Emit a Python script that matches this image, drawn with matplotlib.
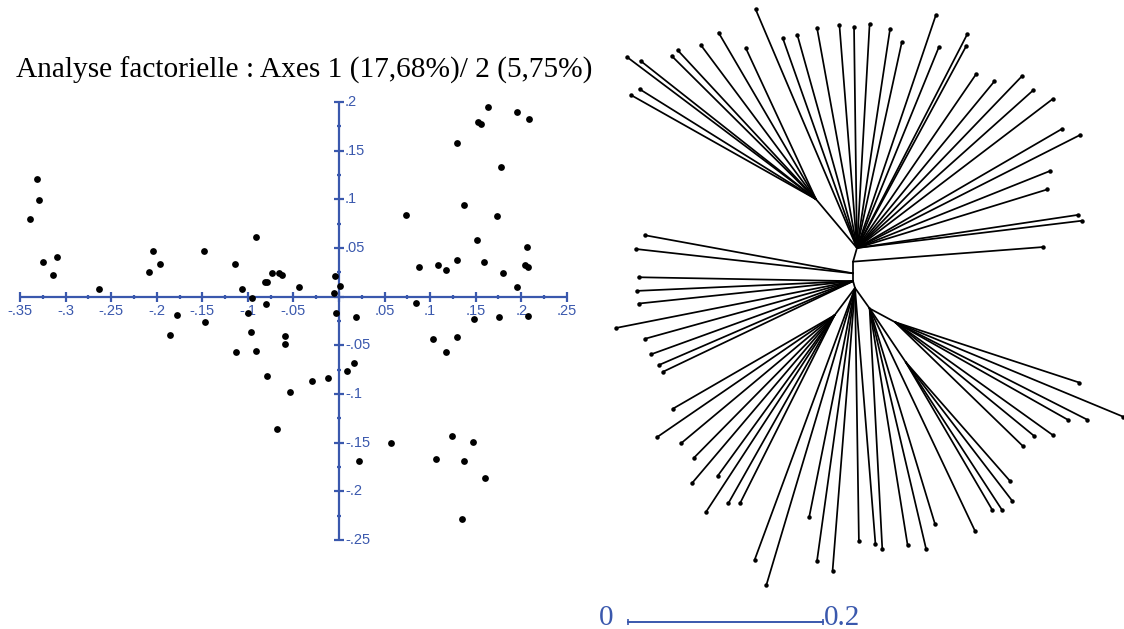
import matplotlib
matplotlib.use("Agg")
import matplotlib.pyplot as plt
from matplotlib.collections import LineCollection
import numpy as np

# factor scores (axis 1, axis 2)
axis1 = [-0.331, -0.329, -0.339, -0.325, -0.310, -0.314, -0.263, -0.204, -0.196, -0.209,
         -0.148, -0.114, -0.091, -0.107, -0.096, -0.081, -0.079, -0.073, -0.066, -0.063,
         -0.044, -0.004, -0.006, 0.001, -0.080, -0.100, -0.178, -0.147, -0.186, -0.097,
         -0.059, -0.003, -0.059, -0.113, -0.091, -0.079, -0.054, -0.030, -0.012, 0.009,
         0.017, -0.068, 0.019,
         0.074, 0.088, 0.085, 0.109, 0.117, 0.130, 0.130, 0.137, 0.152, 0.153,
         0.156, 0.164, 0.159, 0.173, 0.178, 0.180, 0.195, 0.209, 0.206, 0.204,
         0.208, 0.195, 0.148, 0.176, 0.208, 0.103, 0.130, 0.117, 0.057, 0.124,
         0.147, 0.022, 0.107, 0.137, 0.160, 0.135]
axis2 = [0.121, 0.099, 0.080, 0.036, 0.041, 0.022, 0.008, 0.047, 0.034, 0.025,
         0.047, 0.034, 0.061, 0.008, -0.001, 0.015, 0.015, 0.024, 0.024, 0.022,
         0.010, 0.021, 0.004, 0.011, -0.007, -0.017, -0.019, -0.026, -0.039, -0.036,
         -0.040, -0.017, -0.049, -0.057, -0.056, -0.081, -0.098, -0.087, -0.084, -0.076,
         -0.068, -0.136, -0.021,
         0.084, 0.031, -0.006, 0.033, 0.027, 0.038, 0.158, 0.094, 0.058, 0.180,
         0.177, 0.195, 0.036, 0.083, 0.133, 0.024, 0.190, 0.183, 0.051, 0.033,
         0.031, 0.010, -0.023, -0.021, -0.020, -0.043, -0.041, -0.057, -0.150, -0.143,
         -0.149, -0.169, -0.167, -0.169, -0.186, -0.228]

x_tick_labels = ["-.35", "-.3", "-.25", "-.2", "-.15", "-.1", "-.05",
                 ".05", ".1", ".15", ".2", ".25"]
y_tick_labels = [".2", ".15", ".1", ".05", "-.05", "-.1", "-.15", "-.2", "-.25"]

title = "Analyse factorielle : Axes 1 (17,68%)/ 2 (5,75%)"

# unrooted tree: internal nodes (branch-length units) and parent of each
node_x = [0.002, -0.002, -0.002, -0.002, 0.000, 0.015, 0.041, 0.052, -0.040, -0.021]
node_y = [0.000, -0.014, -0.026, -0.034, -0.041, -0.062, -0.076, -0.117, 0.050, -0.069]
node_parent = [-1, 0, 1, 2, 3, 4, 5, 5, 0, 4]

# leaves: coordinates and parent node
tip_x = [-0.102, -0.234, -0.220, -0.230, -0.221, -0.188, -0.182, -0.158, -0.140, -0.112,
         -0.074, -0.059, -0.039, -0.016, -0.001, 0.015, 0.036, 0.048, 0.083, 0.086,
         0.115, 0.114, 0.124, 0.143, 0.171, 0.183, 0.203, 0.212, 0.231, 0.200,
         0.197, 0.229, 0.233, 0.193,
         -0.215, -0.225, -0.222, -0.224, -0.222, -0.245, -0.215, -0.209, -0.201, -0.197,
         -0.187, -0.203, -0.178, -0.165, -0.141, -0.167, -0.130, -0.118, -0.153,
         -0.047, -0.103, -0.091, -0.039, -0.023, 0.004, 0.021,
         0.230, 0.275, 0.238, 0.218, 0.203, 0.184, 0.172, 0.159, 0.161, 0.141,
         0.151, 0.123, 0.082, 0.073, 0.054, 0.028]
tip_y = [0.245, 0.196, 0.192, 0.157, 0.163, 0.197, 0.203, 0.208, 0.221, 0.205,
         0.215, 0.218, 0.226, 0.229, 0.227, 0.230, 0.225, 0.211, 0.239, 0.206,
         0.219, 0.207, 0.178, 0.171, 0.176, 0.162, 0.153, 0.122, 0.116, 0.079,
         0.060, 0.034, 0.028, 0.001,
         0.013, -0.001, -0.030, -0.044, -0.057, -0.082, -0.093, -0.109, -0.120, -0.127,
         -0.165, -0.194, -0.200, -0.215, -0.234, -0.241, -0.262, -0.262, -0.271,
         -0.276, -0.320, -0.346, -0.321, -0.331, -0.301, -0.304,
         -0.138, -0.173, -0.176, -0.176, -0.192, -0.193, -0.203, -0.239, -0.259, -0.269,
         -0.269, -0.290, -0.283, -0.309, -0.305, -0.309]
tip_parent = [0, 8, 8, 8, 8, 8, 8, 8, 8, 8,
              0, 0, 0, 0, 0, 0, 0, 0, 0, 0,
              0, 0, 0, 0, 0, 0, 0, 0, 0, 0,
              0, 0, 0, 1,
              2, 2, 3, 3, 3, 3, 3, 3, 3, 3,
              9, 9, 9, 9, 9, 9, 9, 9, 9,
              4, 4, 4, 4, 4, 4, 4,
              6, 6, 6, 6, 6, 6, 6, 7, 7, 7,
              7, 5, 5, 5, 5, 5]
scale_bar = 0.2

BLUE = "#3a58ad"
W, H = 1124, 629

fig = plt.figure(figsize=(W / 100, H / 100), dpi=100)

# ---- factorial plane -------------------------------------------------------
ax = fig.add_axes([0, 0, 590 / W, 1])
ax.set_xlim((0 - 339) / 911, (590 - 339) / 911)
ax.set_ylim((296.7 - 629) / 973, 296.7 / 973)
ax.axis("off")

x_major = [float(t) for t in x_tick_labels] + [0.0]
y_major = [float(t) for t in y_tick_labels] + [0.0]
x_lo, x_hi = min(x_major), max(x_major)
y_lo, y_hi = min(y_major), max(y_major)
x_minor = np.arange(x_lo + 0.025, x_hi, 0.05)
y_minor = np.arange(y_lo + 0.025, y_hi, 0.05)

ax.plot([x_lo, x_hi], [0, 0], color=BLUE, lw=1.6, solid_capstyle="butt")
ax.plot([0, 0], [y_lo, y_hi], color=BLUE, lw=1.6, solid_capstyle="butt")
ax.plot(x_major, np.zeros(len(x_major)), ls="none", marker="|", ms=7, mew=1.6, color=BLUE)
ax.plot(x_minor, np.zeros(len(x_minor)), ls="none", marker="|", ms=3.5, mew=1.6, color=BLUE)
ax.plot(np.zeros(len(y_major)), y_major, ls="none", marker="_", ms=7, mew=1.6, color=BLUE)
ax.plot(np.zeros(len(y_minor)), y_minor, ls="none", marker="_", ms=3.5, mew=1.6, color=BLUE)

for lbl in x_tick_labels:
    ax.annotate(lbl, (float(lbl), 0), xytext=(0, -5.3), textcoords="offset points",
                ha="center", va="top", fontsize=10.5, color=BLUE, family="Liberation Sans")
for lbl in y_tick_labels:
    ax.annotate(lbl, (0, float(lbl)), xytext=(4.3, 0), textcoords="offset points",
                ha="left", va="center", fontsize=10.5, color=BLUE, family="Liberation Sans")

ax.scatter(axis1, axis2, s=24, color="black", zorder=3, linewidths=0)

fig.text(304 / W, 1 - 77.5 / H, title, ha="center", va="baseline",
         fontsize=21.2, family="Liberation Serif", color="black")

# ---- tree -------------------------------------------------------------------
tx = fig.add_axes([590 / W, 0, (W - 590) / W, 1])
tx.set_xlim((590 - 855) / 975, (W - 855) / 975)
tx.set_ylim((248 - H) / 975, 248 / 975)
tx.axis("off")

segs = []
for i, p in enumerate(node_parent):
    if p >= 0:
        segs.append([(node_x[p], node_y[p]), (node_x[i], node_y[i])])
for x, y, p in zip(tip_x, tip_y, tip_parent):
    segs.append([(node_x[p], node_y[p]), (x, y)])
tx.add_collection(LineCollection(segs, colors="black", linewidths=1.25, capstyle="round"))
tx.plot(tip_x, tip_y, ls="none", marker="o", ms=2.2, color="black")

# scale bar
sb_x0 = -0.233
sb_y = (248 - 621.7) / 975
tx.plot([sb_x0, sb_x0 + scale_bar], [sb_y, sb_y], color=BLUE, lw=1.4)
tx.plot([sb_x0, sb_x0 + scale_bar], [sb_y, sb_y], ls="none", marker="|", ms=4, mew=1.2, color=BLUE)
tx.annotate("0", (sb_x0, sb_y), xytext=(-10.5, -2.5), textcoords="offset points",
            ha="right", va="baseline", fontsize=21, color=BLUE, family="Liberation Serif")
tx.annotate(f"{scale_bar:g}", (sb_x0 + scale_bar, sb_y), xytext=(0.5, -2.5), textcoords="offset points",
            ha="left", va="baseline", fontsize=21, color=BLUE, family="Liberation Serif")

fig.savefig("out.png", dpi=100, facecolor="white")
